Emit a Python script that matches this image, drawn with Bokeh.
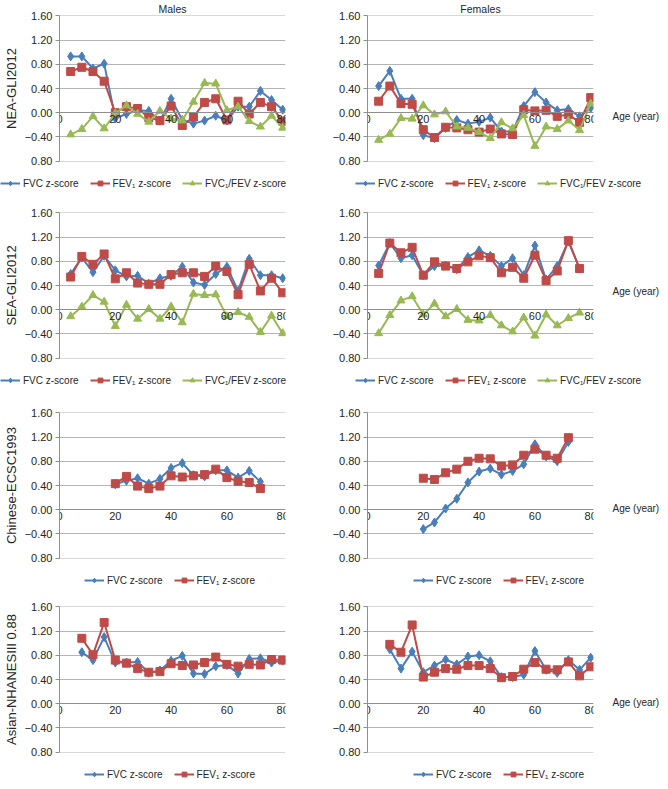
from bokeh.plotting import figure
from bokeh.models import (LinearAxis, Legend, LegendItem, FixedTicker, Range1d)
from bokeh.layouts import column, row
from bokeh.embed import file_html
from bokeh.resources import INLINE

# ---------------- data ----------------
y_ticks = [-0.8, -0.4, 0.0, 0.4, 0.8, 1.2, 1.6]
y_tick_labels = ["0.80", "\u22120.40", "0.00", "0.40", "0.80", "1.20", "1.60"]
x_ticks = [0, 20, 40, 60, 80]
x_tick_labels = ["0", "20", "40", "60", "80"]

legend_fvc = "FVC z-score"
legend_fev1 = "FEV\u2081 z-score"
legend_ratio = "FVC\u2081/FEV z-score"

ages_4_80 = [4, 8, 12, 16, 20, 24, 28, 32, 36, 40, 44, 48, 52, 56, 60, 64, 68, 72, 76, 80]
ages_4_76 = [4, 8, 12, 16, 20, 24, 28, 32, 36, 40, 44, 48, 52, 56, 60, 64, 68, 72, 76]
ages_20_72 = [20, 24, 28, 32, 36, 40, 44, 48, 52, 56, 60, 64, 68, 72]
ages_8_80 = [8, 12, 16, 20, 24, 28, 32, 36, 40, 44, 48, 52, 56, 60, 64, 68, 72, 76, 80]

# NEA-GLI2012
nea_m_fvc = [0.93, 0.93, 0.73, 0.81, -0.09, -0.02, 0.04, 0.03, -0.13, 0.23, -0.12, -0.18,
             -0.13, -0.05, -0.13, 0.10, 0.10, 0.36, 0.21, 0.05]
nea_m_fev1 = [0.68, 0.75, 0.68, 0.52, 0.00, 0.10, 0.07, -0.08, -0.13, 0.11, -0.21, -0.07,
              0.17, 0.23, -0.12, 0.19, -0.02, 0.17, 0.10, -0.14]
nea_m_ratio = [-0.36, -0.27, -0.06, -0.26, -0.01, 0.12, -0.02, -0.15, 0.03, -0.10, -0.13, 0.18,
               0.49, 0.48, 0.04, 0.10, -0.14, -0.23, -0.05, -0.25]
nea_f_fvc = [0.44, 0.69, 0.23, 0.23, -0.37, -0.42, -0.25, -0.12, -0.18, -0.15, -0.08, -0.31,
             -0.31, 0.11, 0.34, 0.17, 0.04, 0.06, -0.06, 0.08]
nea_f_fev1 = [0.19, 0.44, 0.15, 0.14, -0.28, -0.41, -0.24, -0.25, -0.28, -0.32, -0.27, -0.35,
              -0.36, 0.05, 0.03, 0.04, -0.06, -0.03, -0.16, 0.25]
nea_f_ratio = [-0.45, -0.35, -0.09, -0.10, 0.12, -0.03, 0.02, -0.23, -0.25, -0.32, -0.42, -0.16,
               -0.26, -0.04, -0.55, -0.23, -0.27, -0.13, -0.29, 0.15]

# SEA-GLI2012
sea_m_fvc = [0.59, 0.86, 0.62, 0.89, 0.65, 0.55, 0.56, 0.43, 0.52, 0.56, 0.71, 0.45,
             0.41, 0.59, 0.71, 0.31, 0.84, 0.57, 0.57, 0.52]
sea_m_fev1 = [0.54, 0.88, 0.75, 0.92, 0.51, 0.61, 0.44, 0.42, 0.42, 0.58, 0.61, 0.61,
              0.55, 0.72, 0.63, 0.25, 0.75, 0.31, 0.52, 0.28]
sea_m_ratio = [-0.11, 0.05, 0.24, 0.13, -0.27, 0.08, -0.15, 0.01, -0.15, 0.05, -0.21, 0.26,
               0.24, 0.25, -0.11, -0.04, -0.12, -0.37, -0.10, -0.39]
sea_f_fvc = [0.73, 1.10, 0.85, 0.90, 0.57, 0.72, 0.73, 0.67, 0.87, 0.98, 0.89, 0.72,
             0.85, 0.57, 1.06, 0.50, 0.72, 1.13, 0.68]
sea_f_fev1 = [0.60, 1.10, 0.94, 1.03, 0.57, 0.79, 0.72, 0.68, 0.79, 0.89, 0.86, 0.61,
              0.70, 0.52, 0.90, 0.48, 0.64, 1.14, 0.68]
sea_f_ratio = [-0.39, -0.09, 0.15, 0.22, -0.08, 0.10, -0.11, 0.01, -0.17, -0.18, -0.09, -0.26,
               -0.36, -0.13, -0.43, -0.08, -0.26, -0.14, -0.05]

# Chinese-ECSC1993
ecsc_m_fvc = [0.42, 0.48, 0.52, 0.43, 0.51, 0.69, 0.77, 0.57, 0.55, 0.65, 0.65, 0.53, 0.64, 0.46]
ecsc_m_fev1 = [0.43, 0.55, 0.39, 0.35, 0.39, 0.56, 0.54, 0.56, 0.58, 0.67, 0.53, 0.47, 0.45, 0.35]
ecsc_f_fvc = [-0.32, -0.21, 0.02, 0.18, 0.45, 0.63, 0.68, 0.58, 0.64, 0.75, 1.08, 0.88, 0.80, 1.12]
ecsc_f_fev1 = [0.52, 0.50, 0.61, 0.67, 0.80, 0.85, 0.84, 0.72, 0.74, 0.90, 1.00, 0.90, 0.85, 1.19]

# Asian-NHANESIII 0.88
nh_m_fvc = [0.85, 0.72, 1.10, 0.68, 0.68, 0.69, 0.51, 0.55, 0.71, 0.79, 0.50, 0.49,
            0.62, 0.64, 0.50, 0.74, 0.75, 0.68, 0.71]
nh_m_fev1 = [1.08, 0.81, 1.34, 0.72, 0.67, 0.58, 0.52, 0.53, 0.66, 0.63, 0.64, 0.68,
             0.77, 0.65, 0.62, 0.65, 0.64, 0.73, 0.72]
nh_f_fvc = [0.90, 0.58, 0.86, 0.52, 0.63, 0.73, 0.65, 0.78, 0.80, 0.70, 0.44, 0.44,
            0.48, 0.87, 0.56, 0.51, 0.72, 0.56, 0.76]
nh_f_fev1 = [0.98, 0.85, 1.30, 0.44, 0.52, 0.58, 0.57, 0.63, 0.63, 0.58, 0.43, 0.45,
             0.57, 0.68, 0.57, 0.56, 0.69, 0.46, 0.61]

row_names = ["NEA-GLI2012", "SEA-GLI2012", "Chinese-ECSC1993", "Asian-NHANESIII 0.88"]
col_titles = ["Males", "Females"]
x_axis_label = "Age (year)"

# ---------------- style ----------------
FONT = "Liberation Sans"
TXT = "#262626"
BLUE = "#4A7EBB"
RED = "#BE4B48"
GREEN = "#98B954"
GRID = "#b4b4b4"
AXIS = "#8f8f8f"

TOPS = [12, 22, 25, 19]
BOTTOM = 15
LEG_H = 14
FRAME_H = 146
FRAME_W = 226
BORDERS = [(51, 42), (40, 67)]
AGE_LABEL_Y = [-0.07, 0.30, 0.02, 0.02]
LEG_X3 = [0, 28]
LEG_X2 = [84, 86]

STYLES = [
    (BLUE, "diamond", 9),
    (RED, "square", 8),
    (GREEN, "triangle", 8),
]


def make_panel(r, c, ages, series):
    bl, br = BORDERS[c]
    p = figure(frame_width=FRAME_W, frame_height=FRAME_H, output_backend="svg",
               toolbar_location=None,
               x_range=Range1d(0, 81), y_range=Range1d(-0.805, 1.605),
               x_axis_location=None, y_axis_location=None,
               min_border_left=bl, min_border_right=br,
               min_border_top=TOPS[r], min_border_bottom=BOTTOM)
    p.outline_line_color = None

    yax = LinearAxis(ticker=FixedTicker(ticks=y_ticks))
    yax.major_label_overrides = {t: l for t, l in zip(y_ticks, y_tick_labels)}
    yax.major_label_text_font = FONT
    yax.major_label_text_font_size = "11px"
    yax.major_label_text_color = TXT
    yax.major_tick_out = 4
    yax.major_tick_in = 0
    yax.minor_tick_line_color = None
    yax.major_tick_line_color = AXIS
    yax.axis_line_color = AXIS
    yax.major_label_standoff = 3
    if c == 0:
        yax.axis_label = row_names[r]
        yax.axis_label_text_font = FONT
        yax.axis_label_text_font_size = "13px"
        yax.axis_label_text_font_style = "normal"
        yax.axis_label_text_color = TXT
        yax.axis_label_standoff = 3
    p.add_layout(yax, "left")

    # horizontal axis drawn where y = 0
    xax = LinearAxis(ticker=FixedTicker(ticks=x_ticks), fixed_location=0)
    xax.major_label_overrides = {t: l for t, l in zip(x_ticks, x_tick_labels)}
    xax.major_label_text_font = FONT
    xax.major_label_text_font_size = "11px"
    xax.major_label_text_color = TXT
    xax.major_tick_out = 0
    xax.major_tick_in = 0
    xax.minor_tick_line_color = None
    xax.major_tick_line_color = None
    xax.axis_line_color = AXIS
    xax.major_label_standoff = 2
    p.add_layout(xax, "below")

    if c == 1:
        ay = AGE_LABEL_Y[r]
        rax = LinearAxis(ticker=FixedTicker(ticks=[ay]))
        rax.major_label_overrides = {ay: x_axis_label}
        rax.major_label_text_font = FONT
        rax.major_label_text_font_size = "10px"
        rax.major_label_text_color = TXT
        rax.axis_line_color = None
        rax.major_tick_line_color = None
        rax.minor_tick_line_color = None
        rax.major_tick_out = 0
        rax.major_tick_in = 0
        rax.major_label_standoff = 19
        p.add_layout(rax, "right")

    p.ygrid.ticker = FixedTicker(ticks=y_ticks)
    p.ygrid.grid_line_color = GRID
    p.xgrid.visible = False

    for (color, marker, size), vals in zip(STYLES, series):
        p.line(ages, vals, line_color=color, line_width=2)
        p.scatter(ages, vals, marker=marker, size=size, fill_color=color, line_color=color)

    if r == 0:
        p.title.text = col_titles[c]
        p.title.align = "center"
        p.title.text_font = FONT
        p.title.text_font_size = "10.5px"
        p.title.text_font_style = "normal"
        p.title.text_color = TXT
        p.title.standoff = 1
        p.title.offset = 0

    # legend strip under the panel (its renderers sit outside its visible range)
    width = bl + FRAME_W + br
    lf = figure(width=width, height=LEG_H, output_backend="svg", toolbar_location=None,
                x_range=Range1d(-3, -2), y_range=Range1d(-3, -2),
                x_axis_location=None, y_axis_location=None, min_border=0)
    if "frame_align" in lf.properties():
        lf.frame_align = False
    lf.outline_line_color = None
    lf.grid.visible = False
    labels = [legend_fvc, legend_fev1, legend_ratio][:len(series)]
    items = []
    for (color, marker, size), lab, vals in zip(STYLES, labels, series):
        ln = lf.line(ages, vals, line_color=color, line_width=2)
        sc = lf.scatter(ages, vals, marker=marker, size=size, fill_color=color, line_color=color)
        items.append(LegendItem(label=lab, renderers=[ln, sc]))
    if len(series) == 3:
        loc = (LEG_X3[c], 1)
    else:
        loc = (LEG_X2[c], 1)
    leg = Legend(items=items, orientation="horizontal", location=loc)
    leg.label_text_font = FONT
    leg.label_text_font_size = "10px"
    leg.label_text_color = TXT
    leg.glyph_width = 20
    leg.glyph_height = 12
    leg.label_height = 12
    leg.label_standoff = 3
    leg.spacing = 11
    leg.padding = 0
    leg.margin = 0
    leg.border_line_color = None
    leg.background_fill_alpha = 0
    lf.add_layout(leg)
    return column(p, lf, spacing=0)


panels = [
    (make_panel(0, 0, ages_4_80, [nea_m_fvc, nea_m_fev1, nea_m_ratio]),
     make_panel(0, 1, ages_4_80, [nea_f_fvc, nea_f_fev1, nea_f_ratio])),
    (make_panel(1, 0, ages_4_80, [sea_m_fvc, sea_m_fev1, sea_m_ratio]),
     make_panel(1, 1, ages_4_76, [sea_f_fvc, sea_f_fev1, sea_f_ratio])),
    (make_panel(2, 0, ages_20_72, [ecsc_m_fvc, ecsc_m_fev1]),
     make_panel(2, 1, ages_20_72, [ecsc_f_fvc, ecsc_f_fev1])),
    (make_panel(3, 0, ages_8_80, [nh_m_fvc, nh_m_fev1]),
     make_panel(3, 1, ages_8_80, [nh_f_fvc, nh_f_fev1])),
]

layout = column(*[row(a, b, spacing=0) for a, b in panels], spacing=0)

open("out.html", "w").write(file_html(layout, INLINE))
